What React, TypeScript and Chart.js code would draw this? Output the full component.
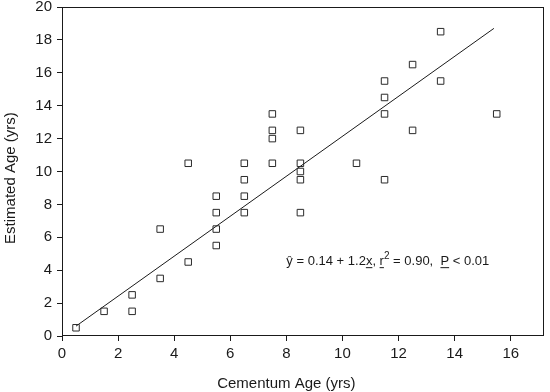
import React, { useEffect, useRef } from 'react';
import { Chart, registerables } from 'chart.js';

Chart.register(...registerables);

// ---- data ----
const cementumAge = [
  0.5, 1.5, 2.5, 2.5, 3.5, 3.5, 4.5, 4.5,
  5.5, 5.5, 5.5, 5.5, 6.5, 6.5, 6.5, 6.5,
  7.5, 7.5, 7.5, 7.5, 8.5, 8.5, 8.5, 8.5, 8.5,
  10.5, 11.5, 11.5, 11.5, 11.5, 12.5, 12.5, 13.5, 13.5, 15.5,
];
const estimatedAge = [
  0.5, 1.5, 2.5, 1.5, 6.5, 3.5, 10.5, 4.5,
  8.5, 7.5, 6.5, 5.5, 10.5, 9.5, 8.5, 7.5,
  13.5, 12.5, 12, 10.5, 12.5, 10.5, 10, 9.5, 7.5,
  10.5, 15.5, 14.5, 13.5, 9.5, 16.5, 12.5, 18.5, 15.5, 13.5,
];
const fitLineX = [0.5, 15.4];
const fitLineY = [0.6, 18.7];
const xTickValues = [0, 2, 4, 6, 8, 10, 12, 14, 16];
const yTickValues = [0, 2, 4, 6, 8, 10, 12, 14, 16, 18, 20];
const xAxisTitle = 'Cementum Age (yrs)';
const yAxisTitle = 'Estimated Age (yrs)';
const annotationAt = { x: 8.0, y: 4.55 };
const annotationParts = [
  { text: 'ŷ', underline: false, sup: false },
  { text: ' = 0.14 + 1.2', underline: false, sup: false },
  { text: 'x', underline: true, sup: false },
  { text: ', ', underline: false, sup: false },
  { text: 'r', underline: true, sup: false },
  { text: '2', underline: false, sup: true },
  { text: ' = 0.90,  ', underline: false, sup: false },
  { text: 'P', underline: true, sup: false },
  { text: ' < 0.01', underline: false, sup: false },
];

const FONT = "'Liberation Sans', Arial, Helvetica, sans-serif";
const INK = '#1a1a1a';

const extrasPlugin = {
  id: 'extras',
  afterDraw(chart: any) {
    const { ctx, chartArea, scales } = chart;
    const xs = scales.x;
    const ys = scales.y;
    ctx.save();
    // frame
    ctx.strokeStyle = INK;
    ctx.lineWidth = 1;
    const l = Math.round(chartArea.left) + 0.5;
    const t = Math.round(chartArea.top) + 0.5;
    const r = Math.round(chartArea.right) - 0.5;
    const b = Math.round(chartArea.bottom) - 0.5;
    ctx.strokeRect(l, t, r - l, b - t);

    // axis titles
    ctx.fillStyle = INK;
    ctx.font = `15px ${FONT}`;
    ctx.textAlign = 'center';
    ctx.textBaseline = 'middle';
    ctx.fillText(xAxisTitle, xs.getPixelForValue(8), chart.height - 8);
    ctx.save();
    ctx.translate(11, ys.getPixelForValue(9.6));
    ctx.rotate(-Math.PI / 2);
    ctx.fillText(yAxisTitle, 0, 0);
    ctx.restore();

    // regression annotation
    let x = xs.getPixelForValue(annotationAt.x);
    const y = ys.getPixelForValue(annotationAt.y);
    ctx.textAlign = 'left';
    ctx.textBaseline = 'middle';
    for (const p of annotationParts) {
      if (p.sup) {
        ctx.font = `10px ${FONT}`;
        ctx.fillText(p.text, x, y - 5);
        x += ctx.measureText(p.text).width;
      } else {
        ctx.font = `13px ${FONT}`;
        ctx.fillText(p.text, x, y);
        const w = ctx.measureText(p.text).width;
        if (p.underline) {
          ctx.fillRect(x, y + 6, w, 1);
        }
        x += w;
      }
    }
    ctx.restore();
  },
};

export default function App() {
  const canvasRef = useRef<HTMLCanvasElement | null>(null);

  useEffect(() => {
    document.body.style.margin = '0';
    const canvas = canvasRef.current;
    if (!canvas) return;
    const points = cementumAge.map((v, i) => ({ x: v, y: estimatedAge[i] }));
    const fit = fitLineX.map((v, i) => ({ x: v, y: fitLineY[i] }));
    const chart = new Chart(canvas, {
      type: 'scatter',
      data: {
        datasets: [
          {
            type: 'line',
            label: 'fit',
            data: fit,
            borderColor: INK,
            borderWidth: 1,
            pointRadius: 0,
            fill: false,
            order: 2,
          } as any,
          {
            label: 'observations',
            data: points,
            pointStyle: 'rect',
            pointRadius: 4.6,
            pointBorderWidth: 1,
            borderColor: '#2a2a2a',
            backgroundColor: 'rgba(255,255,255,0)',
            order: 1,
          } as any,
        ],
      },
      options: {
        animation: false,
        responsive: false,
        maintainAspectRatio: false,
        devicePixelRatio: 1,
        layout: { padding: { top: 7, right: 5, left: 0, bottom: 0 } },
        plugins: {
          legend: { display: false },
          tooltip: { enabled: false },
          title: { display: false },
        },
        scales: {
          x: {
            type: 'linear',
            min: 0,
            max: 17.2,
            afterBuildTicks: (scale: any) => {
              scale.ticks = xTickValues.map((v) => ({ value: v }));
            },
            afterFit: (scale: any) => {
              scale.height = 56;
              scale.paddingLeft = 0;
              scale.paddingRight = 0;
            },
            border: { display: false },
            grid: {
              display: true,
              drawOnChartArea: false,
              drawTicks: true,
              tickLength: 5,
              color: INK,
              lineWidth: 1,
            },
            ticks: {
              padding: 4,
              color: INK,
              font: { family: FONT, size: 15 },
              maxRotation: 0,
              autoSkip: false,
            },
          },
          y: {
            type: 'linear',
            min: 0,
            max: 20,
            afterBuildTicks: (scale: any) => {
              scale.ticks = yTickValues.map((v) => ({ value: v }));
            },
            afterFit: (scale: any) => {
              scale.width = 62;
              scale.paddingTop = 0;
              scale.paddingBottom = 0;
            },
            border: { display: false },
            grid: {
              display: true,
              drawOnChartArea: false,
              drawTicks: true,
              tickLength: 5,
              color: INK,
              lineWidth: 1,
            },
            ticks: {
              padding: 5,
              color: INK,
              font: { family: FONT, size: 15 },
              autoSkip: false,
            },
          },
        },
      },
      plugins: [extrasPlugin],
    });
    return () => chart.destroy();
  }, []);

  return (
    <div style={{ position: 'absolute', left: 0, top: 0, width: 550, height: 392, background: '#fff' }}>
      <canvas ref={canvasRef} width={550} height={392} style={{ width: 550, height: 392, display: 'block' }} />
    </div>
  );
}
